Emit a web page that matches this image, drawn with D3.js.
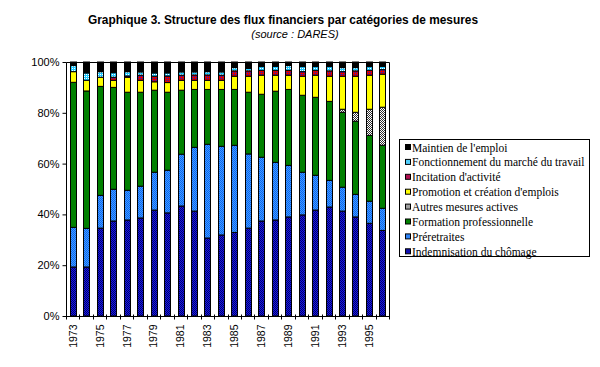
<!DOCTYPE html>
<html><head><meta charset="utf-8">
<script src="https://cdn.jsdelivr.net/npm/d3@7"></script>
<style>body{margin:0;background:#fff}svg{display:block}</style>
</head><body>
<script>
const years = [1973,1974,1975,1976,1977,1978,1979,1980,1981,1982,1983,1984,1985,1986,1987,1988,1989,1990,1991,1992,1993,1994,1995,1996];
const indemnisation  = [19.3,19.3,34.6,37.4,37.8,38.6,41.7,40.6,43.3,41.3,30.7,31.9,32.9,34.6,37.4,37.8,39.0,39.8,41.7,42.9,41.3,39.0,36.5,33.7];
const preretraites   = [15.6,15.2,12.9,12.5,11.7,12.5,14.9,16.8,20.4,25.1,36.9,34.9,34.3,29.2,25.1,22.7,20.3,16.8,13.7,10.5,9.4,8.9,8.7,8.7];
const formation      = [57.1,54.1,42.9,40.1,38.6,37.0,32.3,30.7,25.2,22.8,21.6,22.4,22.0,24.3,24.8,28.0,29.9,30.3,30.7,31.1,29.5,28.8,25.9,24.8];
const autres         = [0,0,0,0,0,0,0,0,0,0,0,0,0,0,0,0,0,0,0,0,1.2,3.5,10.3,15.0];
const promotion      = [4.2,4.2,3.6,2.8,5.9,4.7,3.3,3.8,3.9,3.6,3.6,3.6,5.2,6.3,7.5,6.3,5.6,7.5,8.7,9.9,13.0,14.2,13.4,13.0];
const incitation     = [0,0,0,1.2,0.5,2.0,2.2,2.6,2.0,2.1,2.1,2.0,2.1,2.1,1.9,1.9,1.9,1.8,1.9,2.1,1.8,2.1,1.9,1.8];
const fonctionnement = [2.4,2.9,2.2,1.8,1.7,1.3,1.3,1.2,1.3,1.2,1.3,1.3,1.3,1.0,1.5,1.6,1.9,2.0,1.5,1.7,1.6,1.3,1.5,1.3];
const maintien       = [1.4,4.3,3.8,4.2,3.8,3.9,4.3,4.3,3.9,3.9,3.8,3.9,2.2,2.5,1.8,1.7,1.4,1.8,1.8,1.8,2.2,2.2,1.8,1.7];
const seriesNames = ["Indemnisation du chômage","Préretraites","Formation professionnelle","Autres mesures actives","Promotion et création d'emplois","Incitation d'activité","Fonctionnement du marché du travail","Maintien de l'emploi"];
const yTicks = [0,0.2,0.4,0.6,0.8,1.0];
const title = "Graphique 3. Structure des flux financiers par catégories de mesures";
const subtitle = "(source : DARES)";

const seriesData = [indemnisation,preretraites,formation,autres,promotion,incitation,fonctionnement,maintien];
const keys = seriesNames;
const table = years.map((y,i)=>{const o={year:y}; keys.forEach((k,j)=>o[k]=seriesData[j][i]); return o;});

const W=600,H=367;
const svg=d3.select("body").append("svg").attr("width",W).attr("height",H);
const defs=svg.append("defs");
function checker(id,c1,c2,full){
  const p=defs.append("pattern").attr("id",id).attr("width",2).attr("height",2).attr("patternUnits","userSpaceOnUse");
  p.append("rect").attr("width",2).attr("height",2).attr("fill",c1);
  p.append("rect").attr("width",1).attr("height",1).attr("fill",c2);
  if(full) p.append("rect").attr("x",1).attr("y",1).attr("width",1).attr("height",1).attr("fill",c2);
}
checker("pInd","#1818e0","#000070",true);
checker("pPre","#3ca0ff","#1060f0",true);
checker("pAut","#ffffff","#303030",true);
checker("pInc","#e00000","#2020c0",false);
checker("pFon","#20c8ff","#ffffff",false);
const fills=["url(#pInd)","url(#pPre)","#008000","url(#pAut)","#ffff00","url(#pInc)","url(#pFon)","#000000"];
const swatches=["#1010b0","#2e84f8","#008000","#a0a0a0","#ffff00","#b01050","#50d0ff","#000000"];

const L=66,R=389,T=62,B=316;
const x=d3.scaleBand().domain(years).range([L,R]).paddingInner(0.57).paddingOuter(0.285);
const y=d3.scaleLinear().domain([0,1]).range([B,T]);
const stack=d3.stack().keys(keys).offset(d3.stackOffsetExpand);
const layers=stack(table);

const g=svg.append("g");
layers.forEach((layer,li)=>{
  g.append("g").selectAll("rect").data(layer.filter(d=>d[1]-d[0]>0)).join("rect")
    .attr("x",d=>Math.round(x(d.data.year))+0.5)
    .attr("width",Math.round(x.bandwidth()))
    .attr("y",d=>y(d[1]))
    .attr("height",d=>y(d[0])-y(d[1]))
    .attr("fill",fills[li]).attr("stroke","#000").attr("stroke-width",1);
});

// frame
svg.append("path").attr("d",`M${L+0.5},${B}V${T+0.5}H${R+0.5}V${B}`).attr("fill","none").attr("stroke","#000");

// y axis
const yAxis=d3.axisLeft(y).tickValues(yTicks).tickFormat(d3.format(".0%")).tickSize(4).tickPadding(3);
const ya=svg.append("g").attr("transform",`translate(${L+0.5},0)`).call(yAxis);
ya.select(".domain").remove();
ya.selectAll("text").attr("font-family","Liberation Sans, Arial, sans-serif").attr("font-size",11).attr("fill","#000");

// x axis
const xa=svg.append("g").attr("transform",`translate(0,${B+0.5})`);
xa.append("line").attr("x1",L).attr("x2",R+1).attr("stroke","#000");
const bounds=d3.range(years.length+1).map(i=>L+i*(R-L)/years.length);
xa.selectAll(".tk").data(bounds).join("line").attr("x1",d=>Math.round(d)+0.5).attr("x2",d=>Math.round(d)+0.5).attr("y1",-2).attr("y2",3).attr("stroke","#000");
xa.selectAll(".lb").data(years.filter((d,i)=>i%2===0)).join("text")
  .attr("transform",d=>`translate(${x(d)+x.bandwidth()/2+4},8) rotate(-90)`)
  .attr("text-anchor","end").attr("font-family","Liberation Sans, Arial, sans-serif").attr("font-size",10.5).text(d=>d);

// title
svg.append("text").attr("x",283).attr("y",24).attr("text-anchor","middle")
  .attr("font-family","Liberation Sans, Arial, sans-serif").attr("font-weight","bold").attr("font-size",12)
  .attr("textLength",390).attr("lengthAdjust","spacingAndGlyphs").text(title);
svg.append("text").attr("x",295).attr("y",38).attr("text-anchor","middle")
  .attr("font-family","Liberation Sans, Arial, sans-serif").attr("font-style","italic").attr("font-size",11).text(subtitle);

// legend
const lg=svg.append("g");
lg.append("rect").attr("x",399.5).attr("y",139.5).attr("width",190).attr("height",117).attr("fill","#fff").attr("stroke","#000");
const order=d3.range(keys.length).reverse();
order.forEach((si,i)=>{
  const cy=147.5+i*14.9;
  lg.append("rect").attr("x",405.5).attr("y",cy-3).attr("width",5).attr("height",5).attr("fill",swatches[si]).attr("stroke","#000");
  lg.append("text").attr("x",412).attr("y",cy+4).attr("font-family","Liberation Serif, Times New Roman, serif").attr("font-size",11.5).text(keys[si]);
});
</script>
</body></html>
